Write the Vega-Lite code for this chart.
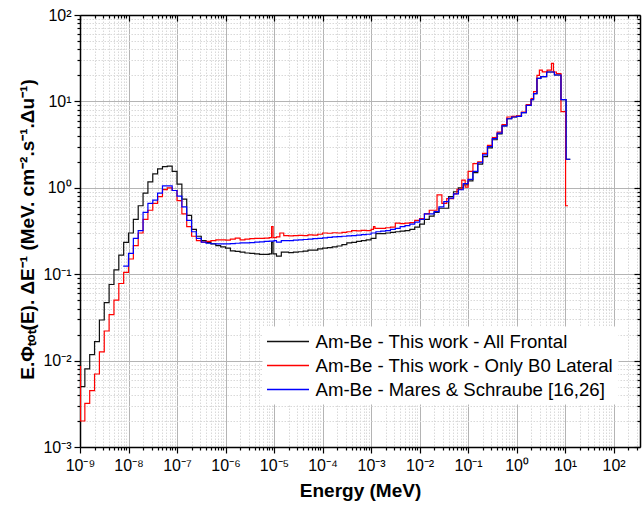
{
  "$schema": "https://vega.github.io/schema/vega-lite/v6.json",
  "width": 560,
  "height": 432,
  "autosize": {"type": "none"},
  "padding": {"left": 80, "top": 15, "right": 3, "bottom": 60},
  "background": "white",
  "config": {"view": {"stroke": null}, "font": "Liberation Sans"},
  "data": {"values": [
    {"s":"A","E":1e-9,"v":0.02},{"s":"A","E":1.023e-9,"v":0.005},{"s":"A","E":1.259e-9,"v":0.008},{"s":"A","E":1.585e-9,"v":0.0117},{"s":"A","E":1.995e-9,"v":0.0166},{"s":"A","E":2.512e-9,"v":0.0295},{"s":"A","E":3.162e-9,"v":0.047},{"s":"A","E":3.981e-9,"v":0.076},{"s":"A","E":5.012e-9,"v":0.112},{"s":"A","E":6.31e-9,"v":0.166},{"s":"A","E":7.943e-9,"v":0.234},
    {"s":"A","E":1e-8,"v":0.30},{"s":"A","E":1.259e-8,"v":0.43},{"s":"A","E":1.585e-8,"v":0.62},{"s":"A","E":1.995e-8,"v":0.87},{"s":"A","E":2.512e-8,"v":1.17},{"s":"A","E":3.162e-8,"v":1.45},{"s":"A","E":3.981e-8,"v":1.66},{"s":"A","E":5.012e-8,"v":1.76},{"s":"A","E":6.31e-8,"v":1.78},{"s":"A","E":7.943e-8,"v":1.55},
    {"s":"A","E":1e-7,"v":1.10},{"s":"A","E":1.259e-7,"v":0.74},{"s":"A","E":1.585e-7,"v":0.48},{"s":"A","E":1.995e-7,"v":0.33},{"s":"A","E":2.512e-7,"v":0.275},{"s":"A","E":3.162e-7,"v":0.245},{"s":"A","E":3.981e-7,"v":0.232},{"s":"A","E":5.012e-7,"v":0.224},{"s":"A","E":6.31e-7,"v":0.214},{"s":"A","E":7.943e-7,"v":0.207},
    {"s":"A","E":1e-6,"v":0.20},{"s":"A","E":1.259e-6,"v":0.186},{"s":"A","E":1.585e-6,"v":0.184},{"s":"A","E":1.995e-6,"v":0.18},{"s":"A","E":2.512e-6,"v":0.176},{"s":"A","E":3.162e-6,"v":0.174},{"s":"A","E":3.981e-6,"v":0.172},{"s":"A","E":5.012e-6,"v":0.17},{"s":"A","E":6.31e-6,"v":0.17},{"s":"A","E":7.943e-6,"v":0.172},{"s":"A","E":8.913e-6,"v":0.235},{"s":"A","E":9.55e-6,"v":0.172},
    {"s":"A","E":1.122e-5,"v":0.162},{"s":"A","E":1.413e-5,"v":0.18},{"s":"A","E":1.995e-5,"v":0.178},{"s":"A","E":2.512e-5,"v":0.18},{"s":"A","E":3.162e-5,"v":0.182},{"s":"A","E":3.981e-5,"v":0.185},{"s":"A","E":5.012e-5,"v":0.19},{"s":"A","E":6.31e-5,"v":0.19},{"s":"A","E":7.943e-5,"v":0.196},
    {"s":"A","E":1e-4,"v":0.20},{"s":"A","E":1.259e-4,"v":0.203},{"s":"A","E":1.585e-4,"v":0.207},{"s":"A","E":1.995e-4,"v":0.212},{"s":"A","E":2.512e-4,"v":0.22},{"s":"A","E":3.162e-4,"v":0.23},{"s":"A","E":3.981e-4,"v":0.234},{"s":"A","E":5.012e-4,"v":0.24},{"s":"A","E":6.31e-4,"v":0.245},{"s":"A","E":7.943e-4,"v":0.25},
    {"s":"A","E":1e-3,"v":0.26},{"s":"A","E":1.259e-3,"v":0.295},{"s":"A","E":1.585e-3,"v":0.295},{"s":"A","E":1.995e-3,"v":0.30},{"s":"A","E":2.512e-3,"v":0.305},{"s":"A","E":3.162e-3,"v":0.31},{"s":"A","E":3.981e-3,"v":0.315},{"s":"A","E":5.012e-3,"v":0.32},{"s":"A","E":6.31e-3,"v":0.33},{"s":"A","E":7.943e-3,"v":0.35},
    {"s":"A","E":0.01,"v":0.38},{"s":"A","E":0.01259,"v":0.43},{"s":"A","E":0.01585,"v":0.47},{"s":"A","E":0.01995,"v":0.52},{"s":"A","E":0.02512,"v":0.58},{"s":"A","E":0.03162,"v":0.58},{"s":"A","E":0.03981,"v":0.79},{"s":"A","E":0.05012,"v":0.9},{"s":"A","E":0.0631,"v":1.0},{"s":"A","E":0.07943,"v":1.08},
    {"s":"A","E":0.1,"v":1.2},{"s":"A","E":0.1259,"v":1.5},{"s":"A","E":0.1585,"v":1.88},{"s":"A","E":0.1995,"v":2.3},{"s":"A","E":0.2512,"v":2.9},{"s":"A","E":0.3162,"v":3.6},{"s":"A","E":0.3981,"v":4.2},{"s":"A","E":0.5012,"v":5.2},{"s":"A","E":0.631,"v":6.3},{"s":"A","E":0.7943,"v":6.6},
    {"s":"A","E":1,"v":6.7},{"s":"A","E":1.259,"v":7.4},{"s":"A","E":1.585,"v":9.0},{"s":"A","E":1.995,"v":10.5},{"s":"A","E":2.239,"v":12.3},{"s":"A","E":2.63,"v":18.5},{"s":"A","E":3.162,"v":19.4},{"s":"A","E":4.169,"v":21.9},{"s":"A","E":6.026,"v":20.2},{"s":"A","E":8.222,"v":10.5},{"s":"A","E":10.47,"v":2.14},{"s":"A","E":12.79,"v":2.14},

    {"s":"B","E":1e-9,"v":0.0085},{"s":"B","E":1.023e-9,"v":0.002},{"s":"B","E":1.259e-9,"v":0.0032},{"s":"B","E":1.585e-9,"v":0.0045},{"s":"B","E":1.995e-9,"v":0.007},{"s":"B","E":2.512e-9,"v":0.0126},{"s":"B","E":3.162e-9,"v":0.022},{"s":"B","E":3.981e-9,"v":0.034},{"s":"B","E":5.012e-9,"v":0.05},{"s":"B","E":6.31e-9,"v":0.078},{"s":"B","E":7.943e-9,"v":0.105},
    {"s":"B","E":1e-8,"v":0.15},{"s":"B","E":1.259e-8,"v":0.214},{"s":"B","E":1.585e-8,"v":0.30},{"s":"B","E":1.995e-8,"v":0.43},{"s":"B","E":2.512e-8,"v":0.55},{"s":"B","E":3.162e-8,"v":0.66},{"s":"B","E":3.981e-8,"v":0.79},{"s":"B","E":5.012e-8,"v":0.955},{"s":"B","E":6.31e-8,"v":1.0},{"s":"B","E":7.943e-8,"v":0.93},
    {"s":"B","E":1e-7,"v":0.71},{"s":"B","E":1.259e-7,"v":0.50},{"s":"B","E":1.585e-7,"v":0.355},{"s":"B","E":1.995e-7,"v":0.275},{"s":"B","E":2.512e-7,"v":0.245},{"s":"B","E":3.162e-7,"v":0.235},{"s":"B","E":3.981e-7,"v":0.24},{"s":"B","E":5.012e-7,"v":0.245},{"s":"B","E":6.31e-7,"v":0.25},{"s":"B","E":7.943e-7,"v":0.25},
    {"s":"B","E":1e-6,"v":0.248},{"s":"B","E":1.259e-6,"v":0.255},{"s":"B","E":1.585e-6,"v":0.262},{"s":"B","E":1.995e-6,"v":0.25},{"s":"B","E":2.512e-6,"v":0.255},{"s":"B","E":3.162e-6,"v":0.258},{"s":"B","E":3.981e-6,"v":0.26},{"s":"B","E":5.012e-6,"v":0.26},{"s":"B","E":6.31e-6,"v":0.262},{"s":"B","E":7.943e-6,"v":0.265},{"s":"B","E":8.913e-6,"v":0.355},{"s":"B","E":9.55e-6,"v":0.265},
    {"s":"B","E":1.122e-5,"v":0.27},{"s":"B","E":1.318e-5,"v":0.30},{"s":"B","E":1.585e-5,"v":0.28},{"s":"B","E":1.995e-5,"v":0.278},{"s":"B","E":2.512e-5,"v":0.28},{"s":"B","E":3.162e-5,"v":0.282},{"s":"B","E":3.981e-5,"v":0.28},{"s":"B","E":5.012e-5,"v":0.285},{"s":"B","E":6.31e-5,"v":0.283},{"s":"B","E":7.943e-5,"v":0.29},
    {"s":"B","E":1e-4,"v":0.30},{"s":"B","E":1.259e-4,"v":0.298},{"s":"B","E":1.585e-4,"v":0.302},{"s":"B","E":1.995e-4,"v":0.30},{"s":"B","E":2.512e-4,"v":0.305},{"s":"B","E":3.162e-4,"v":0.31},{"s":"B","E":3.981e-4,"v":0.32},{"s":"B","E":5.012e-4,"v":0.318},{"s":"B","E":6.31e-4,"v":0.322},{"s":"B","E":7.943e-4,"v":0.32},
    {"s":"B","E":1e-3,"v":0.33},{"s":"B","E":1.122e-3,"v":0.355},{"s":"B","E":1.202e-3,"v":0.34},{"s":"B","E":1.585e-3,"v":0.34},{"s":"B","E":1.995e-3,"v":0.345},{"s":"B","E":2.512e-3,"v":0.35},{"s":"B","E":3.162e-3,"v":0.39},{"s":"B","E":3.981e-3,"v":0.385},{"s":"B","E":5.012e-3,"v":0.39},{"s":"B","E":6.31e-3,"v":0.395},{"s":"B","E":7.943e-3,"v":0.42},
    {"s":"B","E":0.01,"v":0.44},{"s":"B","E":0.01259,"v":0.50},{"s":"B","E":0.01585,"v":0.55},{"s":"B","E":0.01995,"v":0.55},{"s":"B","E":0.02291,"v":0.83},{"s":"B","E":0.02884,"v":0.66},{"s":"B","E":0.03631,"v":0.75},{"s":"B","E":0.05012,"v":0.85},{"s":"B","E":0.05888,"v":0.96},{"s":"B","E":0.07413,"v":1.23},{"s":"B","E":0.0871,"v":1.02},
    {"s":"B","E":0.1,"v":1.55},{"s":"B","E":0.1259,"v":1.9},{"s":"B","E":0.1585,"v":2.0},{"s":"B","E":0.1995,"v":2.5},{"s":"B","E":0.2512,"v":3.1},{"s":"B","E":0.3162,"v":3.8},{"s":"B","E":0.3981,"v":4.4},{"s":"B","E":0.5012,"v":5.4},{"s":"B","E":0.631,"v":6.6},{"s":"B","E":0.7943,"v":6.7},
    {"s":"B","E":1,"v":6.8},{"s":"B","E":1.259,"v":7.5},{"s":"B","E":1.585,"v":9.2},{"s":"B","E":1.995,"v":10.8},{"s":"B","E":2.239,"v":13},{"s":"B","E":2.63,"v":20},{"s":"B","E":2.951,"v":23},{"s":"B","E":3.388,"v":22},{"s":"B","E":4.266,"v":23},{"s":"B","E":5.248,"v":27.6},{"s":"B","E":5.754,"v":21.9},{"s":"B","E":6.607,"v":21},{"s":"B","E":8.222,"v":7.6},{"s":"B","E":10.23,"v":0.62},{"s":"B","E":11.48,"v":0.62},

    {"s":"C","E":7.762e-9,"v":0.124},
    {"s":"C","E":1e-8,"v":0.174},{"s":"C","E":1.259e-8,"v":0.26},{"s":"C","E":1.585e-8,"v":0.32},{"s":"C","E":1.995e-8,"v":0.52},{"s":"C","E":2.512e-8,"v":0.66},{"s":"C","E":3.162e-8,"v":0.72},{"s":"C","E":3.981e-8,"v":0.87},{"s":"C","E":5.012e-8,"v":1.05},{"s":"C","E":6.31e-8,"v":1.05},{"s":"C","E":7.943e-8,"v":0.93},
    {"s":"C","E":1e-7,"v":0.80},{"s":"C","E":1.259e-7,"v":0.60},{"s":"C","E":1.585e-7,"v":0.42},{"s":"C","E":1.995e-7,"v":0.31},{"s":"C","E":2.512e-7,"v":0.26},{"s":"C","E":3.162e-7,"v":0.235},{"s":"C","E":3.981e-7,"v":0.228},{"s":"C","E":5.012e-7,"v":0.225},{"s":"C","E":6.31e-7,"v":0.224},{"s":"C","E":7.943e-7,"v":0.224},
    {"s":"C","E":1e-6,"v":0.224},{"s":"C","E":1.259e-6,"v":0.226},{"s":"C","E":1.585e-6,"v":0.228},{"s":"C","E":1.995e-6,"v":0.23},{"s":"C","E":2.512e-6,"v":0.23},{"s":"C","E":3.162e-6,"v":0.232},{"s":"C","E":3.981e-6,"v":0.235},{"s":"C","E":5.012e-6,"v":0.237},{"s":"C","E":6.31e-6,"v":0.24},{"s":"C","E":7.943e-6,"v":0.242},
    {"s":"C","E":1e-5,"v":0.245},{"s":"C","E":1.122e-5,"v":0.235},{"s":"C","E":1.413e-5,"v":0.245},{"s":"C","E":1.995e-5,"v":0.245},{"s":"C","E":2.512e-5,"v":0.248},{"s":"C","E":3.162e-5,"v":0.25},{"s":"C","E":3.981e-5,"v":0.252},{"s":"C","E":5.012e-5,"v":0.255},{"s":"C","E":6.31e-5,"v":0.258},{"s":"C","E":7.943e-5,"v":0.26},
    {"s":"C","E":1e-4,"v":0.263},{"s":"C","E":1.259e-4,"v":0.267},{"s":"C","E":1.585e-4,"v":0.27},{"s":"C","E":1.995e-4,"v":0.272},{"s":"C","E":2.512e-4,"v":0.275},{"s":"C","E":3.162e-4,"v":0.278},{"s":"C","E":3.981e-4,"v":0.28},{"s":"C","E":5.012e-4,"v":0.283},{"s":"C","E":6.31e-4,"v":0.287},{"s":"C","E":7.943e-4,"v":0.29},
    {"s":"C","E":1e-3,"v":0.30},{"s":"C","E":1.259e-3,"v":0.31},{"s":"C","E":1.585e-3,"v":0.315},{"s":"C","E":1.995e-3,"v":0.32},{"s":"C","E":2.512e-3,"v":0.33},{"s":"C","E":3.162e-3,"v":0.34},{"s":"C","E":3.981e-3,"v":0.355},{"s":"C","E":5.012e-3,"v":0.365},{"s":"C","E":6.31e-3,"v":0.38},{"s":"C","E":7.943e-3,"v":0.40},
    {"s":"C","E":0.01,"v":0.43},{"s":"C","E":0.01259,"v":0.50},{"s":"C","E":0.01585,"v":0.50},{"s":"C","E":0.01995,"v":0.53},{"s":"C","E":0.02512,"v":0.60},{"s":"C","E":0.03162,"v":0.69},{"s":"C","E":0.03981,"v":0.76},{"s":"C","E":0.05012,"v":0.85},{"s":"C","E":0.0631,"v":0.95},{"s":"C","E":0.07943,"v":1.12},
    {"s":"C","E":0.1,"v":1.25},{"s":"C","E":0.1259,"v":1.55},{"s":"C","E":0.1585,"v":1.95},{"s":"C","E":0.1995,"v":2.4},{"s":"C","E":0.2512,"v":3.0},{"s":"C","E":0.3162,"v":3.7},{"s":"C","E":0.3981,"v":4.3},{"s":"C","E":0.5012,"v":5.2},{"s":"C","E":0.631,"v":6.3},{"s":"C","E":0.7943,"v":6.6},
    {"s":"C","E":1,"v":6.7},{"s":"C","E":1.259,"v":7.4},{"s":"C","E":1.585,"v":9.0},{"s":"C","E":1.995,"v":10.5},{"s":"C","E":2.239,"v":12.3},{"s":"C","E":2.63,"v":18.5},{"s":"C","E":3.162,"v":19.4},{"s":"C","E":4.169,"v":21.9},{"s":"C","E":6.026,"v":20.2},{"s":"C","E":8.222,"v":10.5},{"s":"C","E":10.47,"v":2.14},{"s":"C","E":12.79,"v":2.14}
  ]},
  "layer": [
    {
      "mark": {"type": "line", "interpolate": "step-after", "strokeWidth": 1.2, "clip": true},
      "encoding": {
        "x": {
          "field": "E", "type": "quantitative",
          "scale": {"type": "log", "domain": [1e-9, 350], "nice": false},
          "axis": {
            "orient": "bottom",
            "values": [1e-9,2e-9,3e-9,4e-9,5e-9,6e-9,7e-9,8e-9,9e-9,1e-8,2e-8,3e-8,4e-8,5e-8,6e-8,7e-8,8e-8,9e-8,1e-7,2e-7,3e-7,4e-7,5e-7,6e-7,7e-7,8e-7,9e-7,1e-6,2e-6,3e-6,4e-6,5e-6,6e-6,7e-6,8e-6,9e-6,1e-5,2e-5,3e-5,4e-5,5e-5,6e-5,7e-5,8e-5,9e-5,1e-4,2e-4,3e-4,4e-4,5e-4,6e-4,7e-4,8e-4,9e-4,1e-3,2e-3,3e-3,4e-3,5e-3,6e-3,7e-3,8e-3,9e-3,0.01,0.02,0.03,0.04,0.05,0.06,0.07,0.08,0.09,0.1,0.2,0.3,0.4,0.5,0.6,0.7,0.8,0.9,1,2,3,4,5,6,7,8,9,10,20,30,40,50,60,70,80,90,100,200,300],
            "labelExpr": "abs(log(datum.value)/LN10 - round(log(datum.value)/LN10)) < 0.001 ? '10' + replace(replace(replace(replace(replace(replace(replace(replace(replace(replace(replace('' + round(log(datum.value)/LN10), '-', '⁻'), '0', '⁰'), '1', '¹'), '2', '²'), '3', '³'), '4', '⁴'), '5', '⁵'), '6', '⁶'), '7', '⁷'), '8', '⁸'), '9', '⁹') : ''",
            "grid": true,
            "gridColor": {"condition": {"test": "abs(log(datum.value)/LN10 - round(log(datum.value)/LN10)) < 0.001", "value": "#b4b4b4"}, "value": "#d9d9d9"},
            "gridDash": {"condition": {"test": "abs(log(datum.value)/LN10 - round(log(datum.value)/LN10)) < 0.001", "value": []}, "value": [1.5, 1.5]},
            "gridWidth": 1,
            "tickSize": {"condition": {"test": "abs(log(datum.value)/LN10 - round(log(datum.value)/LN10)) < 0.001", "value": 6}, "value": 3},
            "tickColor": "black", "tickWidth": 1.2,
            "domainColor": "black", "domainWidth": 1.5,
            "labelFont": "Liberation Sans", "labelFontSize": 16, "labelColor": "black", "labelPadding": 4,
            "labelOverlap": false, "labelFlush": false, "labelBound": false,
            "title": "Energy (MeV)", "titleFont": "Liberation Sans", "titleFontSize": 19, "titleFontWeight": "bold", "titleColor": "black", "titlePadding": 8
          }
        },
        "y": {
          "field": "v", "type": "quantitative",
          "scale": {"type": "log", "domain": [0.001, 100], "nice": false},
          "axis": {
            "orient": "left",
            "values": [0.001,0.002,0.003,0.004,0.005,0.006,0.007,0.008,0.009,0.01,0.02,0.03,0.04,0.05,0.06,0.07,0.08,0.09,0.1,0.2,0.3,0.4,0.5,0.6,0.7,0.8,0.9,1,2,3,4,5,6,7,8,9,10,20,30,40,50,60,70,80,90,100],
            "labelExpr": "abs(log(datum.value)/LN10 - round(log(datum.value)/LN10)) < 0.001 ? '10' + replace(replace(replace(replace(replace(replace(replace(replace(replace(replace(replace('' + round(log(datum.value)/LN10), '-', '⁻'), '0', '⁰'), '1', '¹'), '2', '²'), '3', '³'), '4', '⁴'), '5', '⁵'), '6', '⁶'), '7', '⁷'), '8', '⁸'), '9', '⁹') : ''",
            "grid": true,
            "gridColor": {"condition": {"test": "abs(log(datum.value)/LN10 - round(log(datum.value)/LN10)) < 0.001", "value": "#b4b4b4"}, "value": "#d9d9d9"},
            "gridDash": {"condition": {"test": "abs(log(datum.value)/LN10 - round(log(datum.value)/LN10)) < 0.001", "value": []}, "value": [1.5, 1.5]},
            "gridWidth": 1,
            "tickSize": {"condition": {"test": "abs(log(datum.value)/LN10 - round(log(datum.value)/LN10)) < 0.001", "value": 6}, "value": 3},
            "tickColor": "black", "tickWidth": 1.2,
            "domainColor": "black", "domainWidth": 1.5,
            "labelFont": "Liberation Sans", "labelFontSize": 16, "labelColor": "black", "labelPadding": 3,
            "labelOverlap": false, "labelFlush": false, "labelBound": false,
            "title": "E.Φₜₒₜ(E). ΔE⁻¹ (MeV. cm⁻².s⁻¹.Δu⁻¹)", "titleFont": "Liberation Sans", "titleFontSize": 19, "titleFontWeight": "bold", "titleColor": "black",
            "titleX": -53, "titleY": 214, "titleAlign": "center", "titleBaseline": "middle", "titleAngle": 270
          }
        },
        "color": {
          "field": "s", "type": "nominal",
          "scale": {"domain": ["A", "B", "C"], "range": ["#111111", "#ff0000", "#0000ff"]},
          "legend": {
            "orient": "none", "legendX": 182, "legendY": 311,
            "title": null, "fillColor": "white", "strokeColor": "transparent", "padding": 4,
            "symbolType": "M-2,0H2", "symbolSize": 441, "symbolStrokeWidth": 1.3, "symbolOffset": 10.5,
            "labelFont": "Liberation Sans", "labelFontSize": 18.6, "labelColor": "black", "labelLimit": 0, "labelOffset": 16,
            "rowPadding": 2,
            "labelExpr": "datum.label == 'A' ? 'Am-Be - This work - All Frontal' : datum.label == 'B' ? 'Am-Be - This work - Only B0 Lateral' : 'Am-Be - Mares & Schraube [16,26]'"
          }
        }
      }
    },
    {
      "mark": {"type": "line", "strokeOpacity": 0},
      "encoding": {
        "x": {
          "field": "E", "type": "quantitative",
          "axis": {
            "orient": "top", "title": null, "labels": false, "grid": false,
            "values": [1e-9,2e-9,3e-9,4e-9,5e-9,6e-9,7e-9,8e-9,9e-9,1e-8,2e-8,3e-8,4e-8,5e-8,6e-8,7e-8,8e-8,9e-8,1e-7,2e-7,3e-7,4e-7,5e-7,6e-7,7e-7,8e-7,9e-7,1e-6,2e-6,3e-6,4e-6,5e-6,6e-6,7e-6,8e-6,9e-6,1e-5,2e-5,3e-5,4e-5,5e-5,6e-5,7e-5,8e-5,9e-5,1e-4,2e-4,3e-4,4e-4,5e-4,6e-4,7e-4,8e-4,9e-4,1e-3,2e-3,3e-3,4e-3,5e-3,6e-3,7e-3,8e-3,9e-3,0.01,0.02,0.03,0.04,0.05,0.06,0.07,0.08,0.09,0.1,0.2,0.3,0.4,0.5,0.6,0.7,0.8,0.9,1,2,3,4,5,6,7,8,9,10,20,30,40,50,60,70,80,90,100,200,300],
            "tickSize": {"condition": {"test": "abs(log(datum.value)/LN10 - round(log(datum.value)/LN10)) < 0.001", "value": -6}, "value": -3},
            "tickColor": "black", "tickWidth": 1.2,
            "domainColor": "black", "domainWidth": 1.5
          }
        },
        "y": {
          "field": "v", "type": "quantitative",
          "axis": {
            "orient": "right", "title": null, "labels": false, "grid": false,
            "values": [0.001,0.002,0.003,0.004,0.005,0.006,0.007,0.008,0.009,0.01,0.02,0.03,0.04,0.05,0.06,0.07,0.08,0.09,0.1,0.2,0.3,0.4,0.5,0.6,0.7,0.8,0.9,1,2,3,4,5,6,7,8,9,10,20,30,40,50,60,70,80,90,100],
            "tickSize": {"condition": {"test": "abs(log(datum.value)/LN10 - round(log(datum.value)/LN10)) < 0.001", "value": -6}, "value": -3},
            "tickColor": "black", "tickWidth": 1.2,
            "domainColor": "black", "domainWidth": 1.5
          }
        }
      }
    }
  ],
  "resolve": {"axis": {"x": "independent", "y": "independent"}}
}
